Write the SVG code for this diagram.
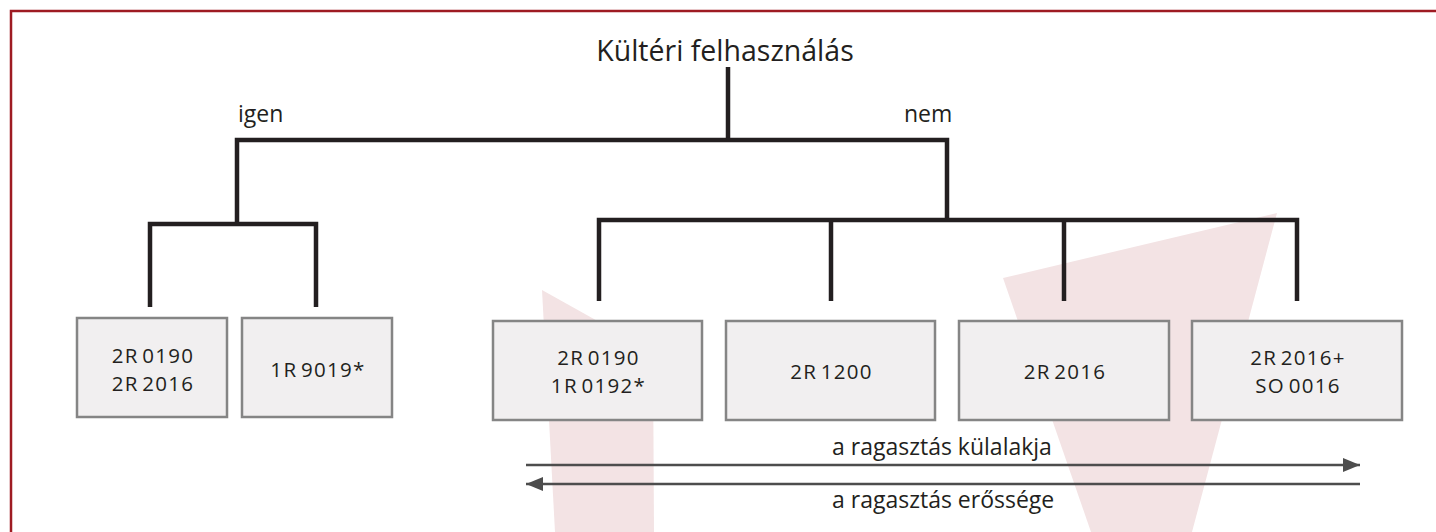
<svg xmlns="http://www.w3.org/2000/svg" width="1436" height="532" viewBox="0 0 1436 532">
<style>
  .t{font-family:"Open Sans","Noto Sans","Liberation Sans",sans-serif;fill:#231f20}
  .box{fill:#f1eff0;stroke:#858585;stroke-width:2.5}
  .bt{font-size:20.5px;letter-spacing:1.3px;word-spacing:-3px;text-anchor:middle}
  .tree{fill:none;stroke:#231f20;stroke-width:4.5;stroke-linejoin:miter;stroke-linecap:butt}
  .arr{stroke:#4d4d4d;stroke-width:2.5;fill:none}
  .wm{fill:#f3e3e4}
</style>
<defs>
  <marker id="ah" markerWidth="18" markerHeight="14" refX="17" refY="7" orient="auto" markerUnits="userSpaceOnUse">
    <path d="M0,0 L17,7 L0,14 Z" fill="#4d4d4d"/>
  </marker>
</defs>
<rect width="1436" height="532" fill="#ffffff"/>
<g id="watermark">
  <polygon class="wm" points="542,290 653,352 654,532 555,532"/>
  <polygon class="wm" points="1003,278 1277,213 1192,532 1091,532"/>
</g>
<g id="frame">
  <path d="M11,532 V11 H1436" fill="none" stroke="#9e1b22" stroke-width="2.5"/>
</g>
<g id="connectors">
  <path class="tree" d="M728,67 V140"/>
  <path class="tree" d="M237,224 V140 H947 V220"/>
  <path class="tree" d="M150,307 V224 H316 V307"/>
  <path class="tree" d="M599,301 V220 H1297 V301"/>
  <path class="tree" d="M831,220 V301"/>
  <path class="tree" d="M1064,220 V301"/>
  <line class="arr" x1="526" y1="465" x2="1360" y2="465" marker-end="url(#ah)"/>
  <line class="arr" x1="1360" y1="484" x2="526" y2="484" marker-end="url(#ah)"/>
</g>
<g id="title"><text class="t" x="725" y="61" font-size="28.5" text-anchor="middle">Kültéri felhasználás</text></g>
<g id="label-igen"><text class="t" x="238" y="122" font-size="23">igen</text></g>
<g id="label-nem"><text class="t" x="904" y="122" font-size="23">nem</text></g>
<g id="node-1">
  <rect class="box" x="77" y="318" width="150" height="99"/>
  <text class="t bt" x="153" y="363">2R 0190</text>
  <text class="t bt" x="153" y="391">2R 2016</text>
</g>
<g id="node-2">
  <rect class="box" x="242" y="318" width="150" height="99"/>
  <text class="t bt" x="318" y="377">1R 9019*</text>
</g>
<g id="node-3">
  <rect class="box" x="493" y="321" width="209" height="99"/>
  <text class="t bt" x="598.5" y="365">2R 0190</text>
  <text class="t bt" x="598.5" y="393">1R 0192*</text>
</g>
<g id="node-4">
  <rect class="box" x="726" y="321" width="209" height="99"/>
  <text class="t bt" x="831.5" y="379">2R 1200</text>
</g>
<g id="node-5">
  <rect class="box" x="959" y="321" width="210" height="99"/>
  <text class="t bt" x="1065" y="379">2R 2016</text>
</g>
<g id="node-6">
  <rect class="box" x="1192" y="321" width="210" height="99"/>
  <text class="t bt" x="1298" y="365">2R 2016+</text>
  <text class="t bt" x="1298" y="393">SO 0016</text>
</g>
<g id="axis-labels">
  <text class="t" x="832" y="455" font-size="23">a ragasztás külalakja</text>
  <text class="t" x="832" y="508" font-size="23">a ragasztás erőssége</text>
</g>
</svg>
